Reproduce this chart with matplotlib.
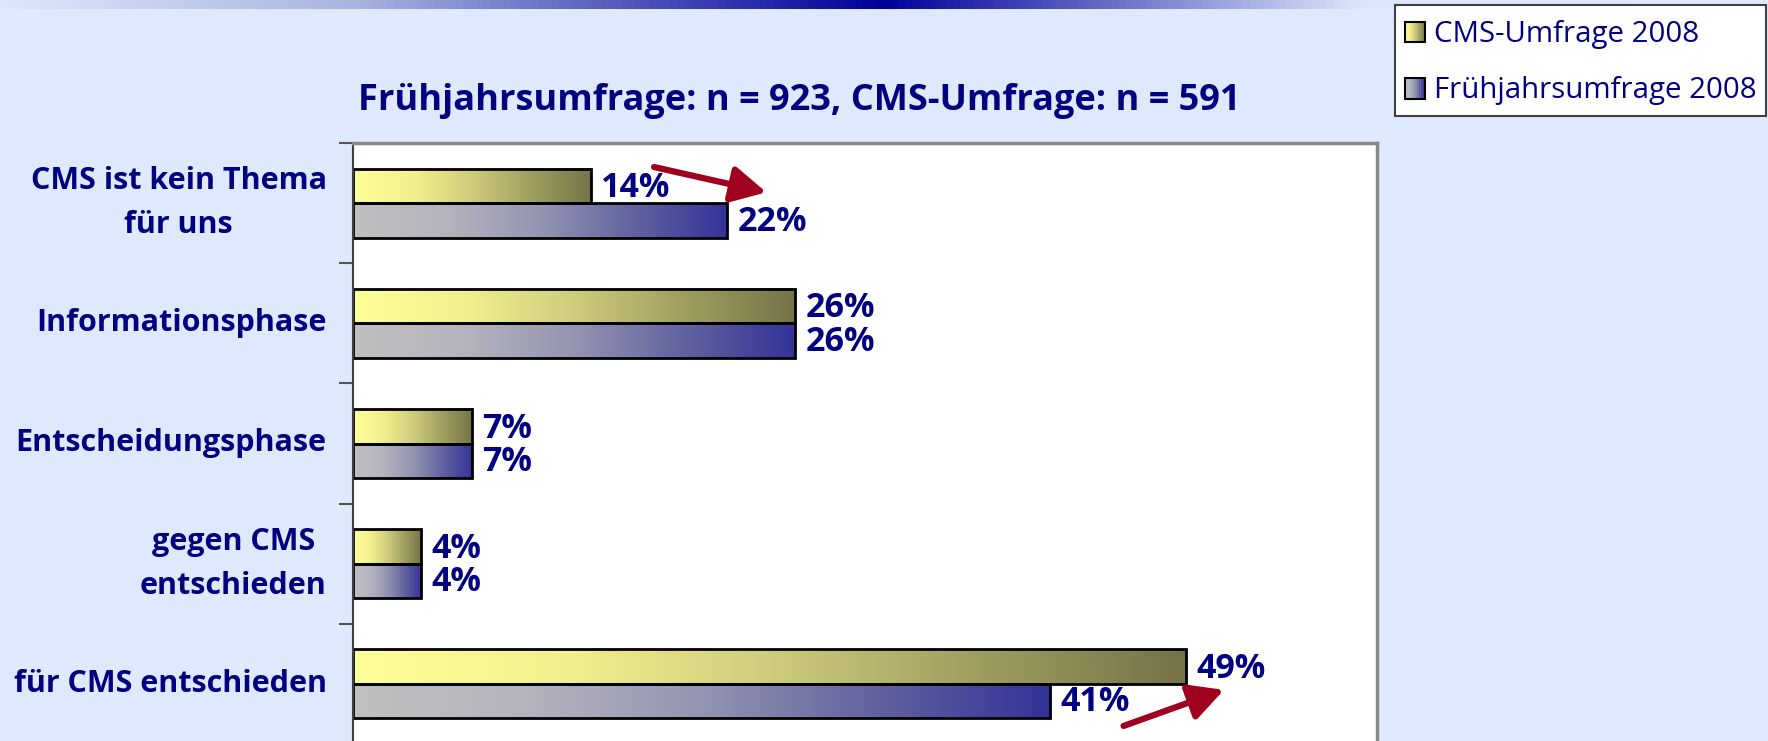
import numpy as np
import matplotlib
matplotlib.use("Agg")
import matplotlib.pyplot as plt
from matplotlib.colors import LinearSegmentedColormap
from matplotlib.patches import Rectangle
from matplotlib.legend_handler import HandlerBase

plt.rcParams['font.family'] = ['Open Sans', 'DejaVu Sans']

# data
categories = ["CMS ist kein Thema\nfür uns", "Informationsphase", "Entscheidungsphase",
              "gegen CMS\nentschieden", "für CMS entschieden"]
cms_2008 = [14, 26, 7, 4, 49]
fruehjahr_2008 = [22, 26, 7, 4, 41]
series_names = ["CMS-Umfrage 2008", "Frühjahrsumfrage 2008"]
title = "Frühjahrsumfrage: n = 923, CMS-Umfrage: n = 591"

navy = '#000080'
bg = '#dfe9fd'
arrow_red = '#a00020'
yellow_cmap = LinearSegmentedColormap.from_list('yel', ['#ffff99', '#f2f08e', '#cfcc7c', '#9f9e60', '#767447'])
blue_cmap = LinearSegmentedColormap.from_list('blu', ['#c0c0c0', '#b4b4be', '#9494b2', '#62629f', '#333399'])
band_cmap = LinearSegmentedColormap.from_list('band', [(0, '#dce6fa'), (0.2, '#a9b4e0'), (0.5, '#000099'),
                                                       (0.77, '#dce6fa'), (1, bg)])

fig = plt.figure(figsize=(17.68, 7.41), dpi=100, facecolor=bg)

# gradient band at the top
band = fig.add_axes([0, 1 - 9 / 741, 1, 9 / 741])
band.imshow(np.linspace(0, 1, 512).reshape(1, -1), cmap=band_cmap, aspect='auto')
band.axis('off')

ax = fig.add_axes([353 / 1768, -3 / 741, 1024 / 1768, 601 / 741])
ax.set_facecolor('white')

y = np.arange(len(categories))
h = 0.2875


def grad_bar(x0, w, yc, cmap):
    grad = np.linspace(0, 1, 256).reshape(1, -1)
    ax.imshow(grad, cmap=cmap, extent=(x0, x0 + w, yc + h / 2, yc - h / 2),
              aspect='auto', zorder=1, interpolation='bilinear')


for i in range(len(categories)):
    grad_bar(0, cms_2008[i], y[i] - h / 2, yellow_cmap)
    grad_bar(0, fruehjahr_2008[i], y[i] + h / 2, blue_cmap)

ax.barh(y - h / 2, cms_2008, height=h, facecolor='none', edgecolor='black', linewidth=2, zorder=2)
ax.barh(y + h / 2, fruehjahr_2008, height=h, facecolor='none', edgecolor='black', linewidth=2, zorder=2)

for i in range(len(categories)):
    ax.text(cms_2008[i] + 0.6, y[i] - h / 2 + 0.02, f"{cms_2008[i]}%", va='center', ha='left',
            fontsize=24.5, weight='bold', color=navy, zorder=3)
    ax.text(fruehjahr_2008[i] + 0.6, y[i] + h / 2 + 0.01, f"{fruehjahr_2008[i]}%", va='center', ha='left',
            fontsize=24.5, weight='bold', color=navy, zorder=3)

# red trend arrows
ax.annotate('', xy=(fruehjahr_2008[0] + 2.3, y[0] - 0.09), xytext=(cms_2008[0] + 3.7, y[0] - 0.3),
            arrowprops=dict(arrowstyle='-|>,head_length=0.95,head_width=0.5', color=arrow_red,
                            lw=4.5, mutation_scale=22, shrinkA=0, shrinkB=0), zorder=4)
ax.annotate('', xy=(cms_2008[4] + 2.2, y[4] + 0.05), xytext=(fruehjahr_2008[4] + 4.3, y[4] + 0.35),
            arrowprops=dict(arrowstyle='-|>,head_length=0.95,head_width=0.5', color=arrow_red,
                            lw=4.5, mutation_scale=22, shrinkA=0, shrinkB=0), zorder=4)

ax.set_xlim(0, 60.2)
ax.set_ylim(len(categories) - 0.5, -0.5)
ax.set_xticks([])
ax.set_yticks(np.arange(-0.5, len(categories), 1.0))
ax.set_yticklabels([])
ax.tick_params(axis='y', which='major', length=10, width=1.5, color='#555555')
ax.set_yticks(y, minor=True)
ax.set_yticklabels(categories, minor=True, fontsize=22, weight='bold', color=navy,
                   multialignment='center', linespacing=1.6)
for lbl in ax.get_yticklabels(minor=True):
    lbl.set_va('center')
ax.tick_params(axis='y', which='minor', length=0, pad=19)

ax.spines['left'].set_color('#404040')
ax.spines['left'].set_linewidth(1.5)
for s in ['top', 'right']:
    ax.spines[s].set_color('#888888')
    ax.spines[s].set_linewidth(2.5)
ax.spines['bottom'].set_visible(False)

fig.text(799 / 1768, 1 - 110 / 741, title, ha='center', va='baseline', fontsize=26,
         weight='bold', color=navy)


class GradHandler(HandlerBase):
    def __init__(self, cmap):
        super().__init__()
        self.cmap = cmap

    def create_artists(self, legend, orig_handle, xdescent, ydescent, width, height, fontsize, trans):
        n = 10
        side = width
        y0 = -ydescent + (height - side) / 2
        arts = []
        for k in range(n):
            arts.append(Rectangle((-xdescent + k * side / n, y0), side / n, side,
                                  facecolor=self.cmap((k + 0.5) / n), edgecolor='none', transform=trans))
        arts.append(Rectangle((-xdescent, y0), side, side, facecolor='none',
                              edgecolor='black', lw=1.5, transform=trans))
        return arts


h1 = Rectangle((0, 0), 1, 1)
h2 = Rectangle((0, 0), 1, 1)
leg = fig.legend([h1, h2], series_names, loc='upper right',
                 bbox_to_anchor=(1766 / 1768, 1 - 5 / 741), bbox_transform=fig.transFigure,
                 handler_map={h1: GradHandler(yellow_cmap), h2: GradHandler(blue_cmap)},
                 fontsize=21.2, labelcolor=navy, frameon=True, fancybox=False, framealpha=1,
                 edgecolor='#404040', borderaxespad=0, borderpad=0.32, labelspacing=0.74,
                 handlelength=0.7, handleheight=1.45, handletextpad=0.3)
leg.get_frame().set_linewidth(1.5)

fig.savefig('out.png', dpi=100, facecolor=bg)
